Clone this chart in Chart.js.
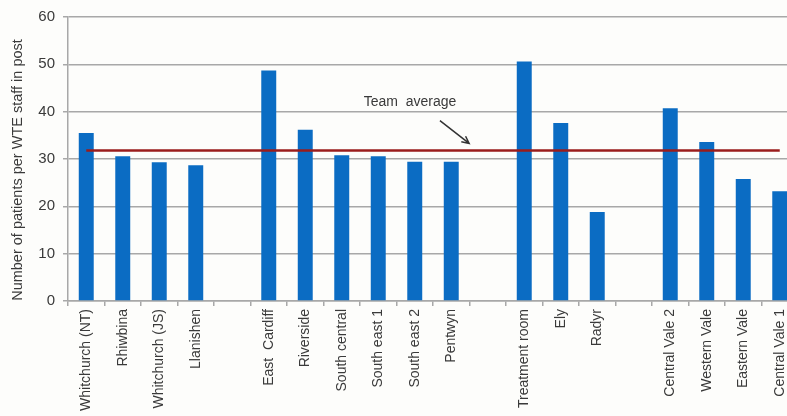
<!DOCTYPE html>
<html>
<head>
<meta charset="utf-8">
<title>Patients per WTE staff</title>
<script src="https://cdn.jsdelivr.net/npm/chart.js@4.4.1/dist/chart.umd.min.js"></script>
<style>
  html, body { margin: 0; padding: 0; background: #fdfdfb; overflow: hidden; }
  #wrap { width: 787px; height: 416px; overflow: hidden; }
</style>
</head>
<body>
<div id="wrap"><canvas id="staffChart" width="800" height="416"></canvas></div>
<script>
// teams, grouped by locality; blank entries leave a gap between groups
const teams = [
  'Whitchurch (NT)', 'Rhiwbina', 'Whitchurch (JS)', 'Llanishen', '',
  'East  Cardiff', 'Riverside', 'South central', 'South east 1', 'South east 2', 'Pentwyn', '',
  'Treatment room', 'Ely', 'Radyr', '',
  'Central Vale 2', 'Western Vale', 'Eastern Vale', 'Central Vale 1'
];

const patientsPerWte = [
  35.5, 30.6, 29.3, 28.7, null,
  48.7, 36.2, 30.8, 30.6, 29.4, 29.4, null,
  50.6, 37.6, 18.8, null,
  40.7, 33.6, 25.8, 23.2
];

const teamAverage = 31.8;
const yTicks = [0, 10, 20, 30, 40, 50, 60];

const textColor = '#3a3a3a';
const gridColor = '#a8a8a8';

// "Team average" note with its arrow, plus the rotated y title
const notesPlugin = {
  id: 'notes',
  afterDraw(chart) {
    const ctx = chart.ctx;
    const x = chart.scales.x;
    const y = chart.scales.y;

    ctx.save();
    ctx.fillStyle = textColor;
    ctx.font = '14px "Liberation Sans", Arial, sans-serif';
    ctx.textAlign = 'center';
    ctx.textBaseline = 'middle';
    ctx.fillText('Team  average', x.getPixelForValue(8.87), y.getPixelForValue(42.0));

    const x1 = x.getPixelForValue(9.69), y1 = y.getPixelForValue(38.1);
    const x2 = x.getPixelForValue(10.49), y2 = y.getPixelForValue(33.3);
    ctx.strokeStyle = '#333';
    ctx.lineWidth = 1.5;
    ctx.beginPath();
    ctx.moveTo(x1, y1);
    ctx.lineTo(x2, y2);
    const ang = Math.atan2(y2 - y1, x2 - x1);
    ctx.moveTo(x2 - 8 * Math.cos(ang - 0.45), y2 - 8 * Math.sin(ang - 0.45));
    ctx.lineTo(x2, y2);
    ctx.lineTo(x2 - 8 * Math.cos(ang + 0.45), y2 - 8 * Math.sin(ang + 0.45));
    ctx.stroke();

    ctx.translate(18, 170);
    ctx.rotate(-Math.PI / 2);
    ctx.font = '14.5px "Liberation Sans", Arial, sans-serif';
    ctx.fillText('Number of patients per WTE staff in post', 0, 0);
    ctx.restore();
  }
};

new Chart(document.getElementById('staffChart'), {
  data: {
    labels: teams,
    datasets: [
      {
        type: 'line',
        label: 'Team average',
        data: teams.map(() => teamAverage),
        borderColor: '#9a1c1c',
        borderWidth: 2.5,
        pointRadius: 0,
        order: 0
      },
      {
        type: 'bar',
        label: 'Patients per WTE',
        data: patientsPerWte,
        backgroundColor: '#0b6cc3',
        categoryPercentage: 1,
        barPercentage: 0.41,
        order: 1
      }
    ]
  },
  options: {
    responsive: false,
    animation: false,
    layout: { padding: { top: 17, right: 2, left: 0, bottom: 0 } },
    plugins: {
      legend: { display: false },
      tooltip: { enabled: false }
    },
    scales: {
      x: {
        afterFit: (scale) => { scale.height = 115; },
        grid: { display: true, drawOnChartArea: false, color: gridColor, lineWidth: 1.5, tickLength: 5, offset: true },
        border: { color: gridColor, width: 1.5 },
        ticks: {
          autoSkip: false,
          maxRotation: 90,
          minRotation: 90,
          padding: 3,
          color: textColor,
          font: { family: '"Liberation Sans", Arial, sans-serif', size: 14 }
        }
      },
      y: {
        min: 0,
        max: 60,
        afterFit: (scale) => { scale.width = 68; },
        afterBuildTicks: (scale) => { scale.ticks = yTicks.map(v => ({ value: v })); },
        grid: { color: gridColor, lineWidth: 1.5, tickLength: 5 },
        border: { color: gridColor, width: 1.5 },
        ticks: {
          padding: 8,
          color: textColor,
          font: { family: '"Liberation Sans Narrow", "Liberation Sans", Arial, sans-serif', size: 15 }
        }
      }
    }
  },
  plugins: [notesPlugin]
});
</script>
</body>
</html>
